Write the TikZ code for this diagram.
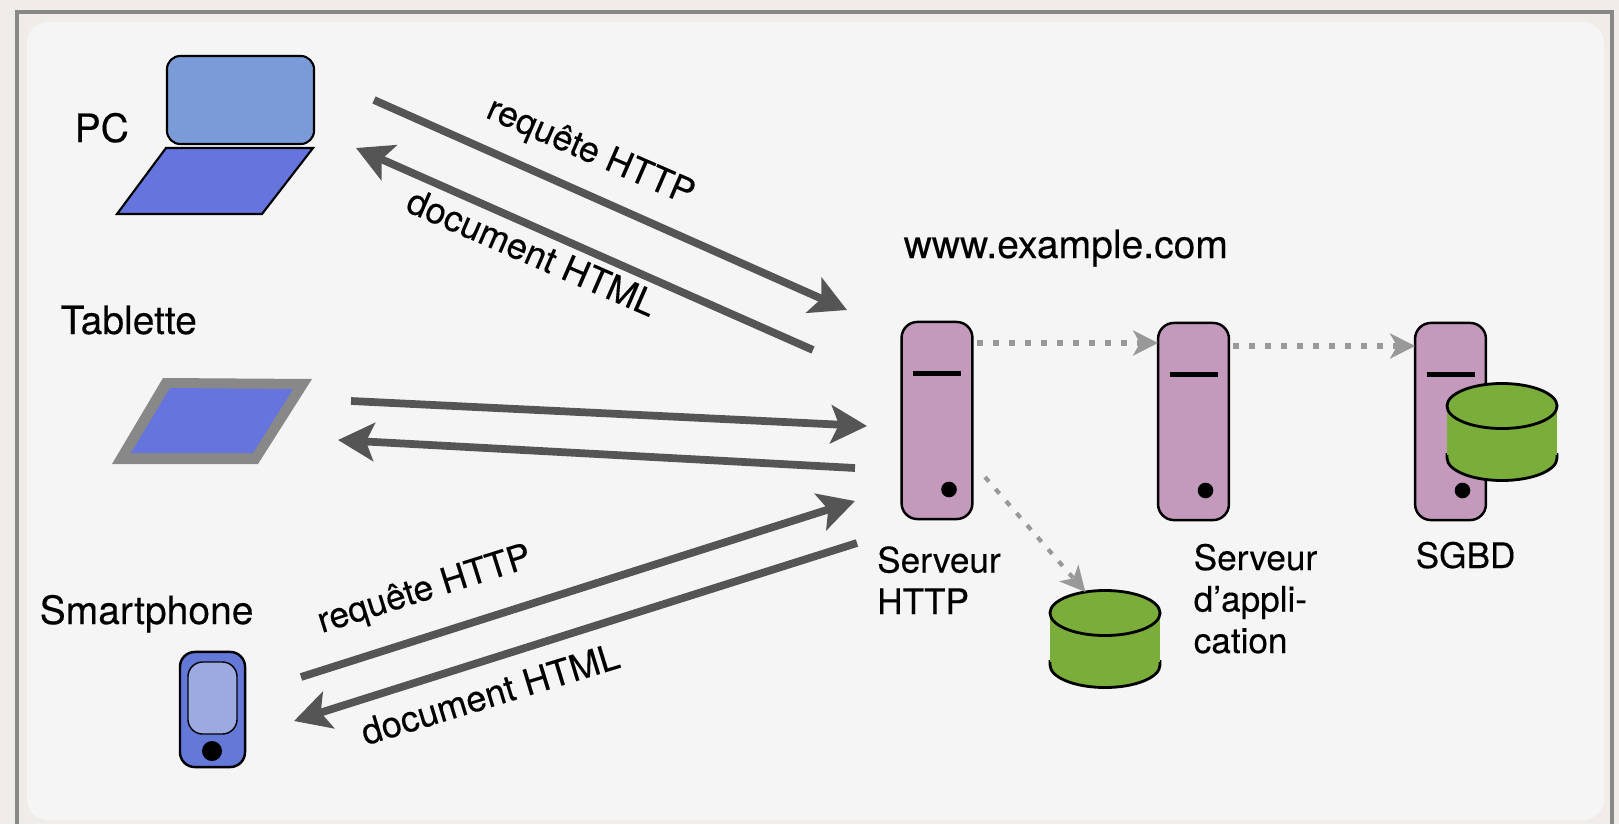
\documentclass[tikz,border=0pt]{standalone}
\usepackage{fontspec}
\setmainfont[FakeBold=0.25]{TeX Gyre Heros}
\definecolor{pagebg}{RGB}{240,237,232}
\definecolor{panelbg}{RGB}{245,245,245}
\definecolor{framegray}{RGB}{136,136,136}
\definecolor{arrowgray}{RGB}{85,85,85}
\definecolor{dotgray}{RGB}{153,153,153}
\definecolor{screenblue}{RGB}{122,155,216}
\definecolor{devblue}{RGB}{102,117,221}
\definecolor{phoneblue}{RGB}{100,120,216}
\definecolor{phonescreen}{RGB}{157,170,226}
\definecolor{srvpurple}{RGB}{195,154,187}
\definecolor{dbgreen}{RGB}{122,173,58}
\usetikzlibrary{arrows.meta}
\usetikzlibrary{positioning}
\usetikzlibrary{shapes.geometric}
\tikzset{srv/.style={
    draw=black,line width=0.7pt,fill=srvpurple,rounded corners=4.5pt,
    minimum width=0.708cm,minimum height=1.97cm,inner sep=0pt,outer sep=0pt
  },
  dev/.style={
    draw=black,line width=0.6pt,inner sep=0pt,outer sep=0pt
  },
  dbtop/.style={
    ellipse,draw=black,line width=0.8pt,fill=dbgreen,
    minimum width=1.10cm,minimum height=0.45cm,inner sep=0pt,outer sep=0pt
  },
  req/.style={
    line width=2.2pt,draw=arrowgray,
    -{Stealth[length=0.36cm,width=0.38cm,inset=0.08cm]}
  },
  dotreq/.style={
    line width=1.6pt,draw=dotgray,dash pattern=on 1.7pt off 2.85pt,
    -{Stealth[length=0.25cm,width=0.25cm,inset=0.07cm]}
  },
  lbl/.style={
    font=\fontsize{10}{11.8}\selectfont,inner sep=0pt,align=left
  },
  lblarrow/.style={
    font=\fontsize{10.1}{12}\selectfont,inner sep=0pt
  },
  lbldoc/.style={
    font=\fontsize{10.3}{12}\selectfont,inner sep=0pt
  },
  lblbig/.style={
    font=\fontsize{11.1}{13}\selectfont,inner sep=0pt
  }
}
\begin{document}
\begin{tikzpicture}[x=0.01cm,y=-0.01cm]
      \useasboundingbox (0,0) rectangle (1619,824);
      \fill[pagebg] (0,0) rectangle (1619,824);
      \draw[framegray,line width=0.9pt] (17,824) -- (17,12) -- (1612,12) -- (1612,824);
      \fill[panelbg,rounded corners=6pt] (27,22) rectangle (1604,820);
      % PC
      \node[dev,fill=screenblue,rounded corners=3.8pt,minimum width=1.47cm,minimum height=0.88cm] (pcscreen) at (240.5,100) {};
      \draw[dev,fill=devblue] (166,148) -- (313,148) -- (262,214) -- (117,214) -- cycle;
      \node[lblbig,anchor=base west] (pclabel) at (74,142) {PC};
      % tablette
      \fill[framegray] (163,378) -- (312,379) -- (258,464) -- (112,464) -- cycle;
      \fill[devblue] (170,388) -- (293,389) -- (253,453) -- (131,453) -- cycle;
      \node[lblbig,anchor=base west] (tablabel) at (60,334) {Tablette};
      % smartphone
      \node[dev,line width=0.7pt,fill=phoneblue,rounded corners=4.2pt,minimum width=0.65cm,minimum height=1.15cm] (phone) at (212.5,709.5) {};
      \node[dev,line width=0.4pt,fill=phonescreen,rounded corners=4.2pt,minimum width=0.49cm,minimum height=0.72cm] (phonescr) at (212.5,698) {};
      \node[circle,fill=black,minimum size=0.2cm,inner sep=0pt] (phonebtn) at (212,751) {};
      \node[lblbig,anchor=base west] (phlabel) at (39,624) {Smartphone};
      % serveurs
      \node[lblbig,anchor=base west] (site) at (903,258) {www.example.com};
      \node[srv] (srvhttp) at (937,420.5) {};
      \node[srv] (srvapp) at (1193.5,421.5) {};
      \node[srv] (srvdb) at (1450.5,421.5) {};
      \foreach \srv in {srvhttp,srvapp,srvdb} {
        \draw[black,line width=1.4pt] ([shift={(-24,-47)}]\srv.center) -- ([shift={(24,-47)}]\srv.center);
        \fill[black] ([shift={(12,69)}]\srv.center) circle (7.8);
      }
      % bases
      \draw[black,line width=0.8pt,fill=dbgreen] (1050,660) -- (1050,665) arc[start angle=180,end angle=0,x radius=55,y radius=22.5] -- (1160,660);
      \fill[dbgreen] (1050,613) rectangle (1160,662);
      \node[dbtop] (dbhttp) at (1105,613) {};
      \draw[black,line width=0.8pt,fill=dbgreen] (1447,453) -- (1447,458) arc[start angle=180,end angle=0,x radius=55,y radius=22.5] -- (1557,453);
      \fill[dbgreen] (1447,406) rectangle (1557,455);
      \node[dbtop] (dbsgbd) at (1502,406) {};
      \node[lbl,anchor=base west] (httplabel) at (876.5,614) {Serveur\\HTTP};
      \node[lbl,anchor=base west] (applabel) at (1193,653) {Serveur\\d’appli-\\cation};
      \node[lbl,anchor=base west] (sgbdlabel) at (1415,568) {SGBD};
      % fleches
      \coordinate (pcout) at (374,100);
      \coordinate (pcin) at (356,148);
      \coordinate (hin1) at (847,310);
      \coordinate (hout1) at (813,350);
      \coordinate (tabout) at (351,401);
      \coordinate (tabin) at (338,440);
      \coordinate (hin2) at (867,426);
      \coordinate (hout2) at (855,468);
      \coordinate (phout) at (301,677);
      \coordinate (phin) at (294,721);
      \coordinate (hin3) at (855,501);
      \coordinate (hout3) at (857,543);
      \draw[req] (pcout) -- (hin1);
      \draw[req] (hout1) -- (pcin);
      \draw[req] (tabout) -- (hin2);
      \draw[req] (hout2) -- (tabin);
      \draw[req] (phout) -- (hin3);
      \draw[req] (hout3) -- (phin);
      \coordinate (appout) at (977,343);
      \coordinate (dbout) at (1233,346);
      \coordinate (bdout) at (985,477);
      \draw[dotreq] (appout) -- (appout -| srvapp.west);
      \draw[dotreq] (dbout) -- (dbout -| srvdb.west);
      \draw[dotreq,line width=1.2pt] (bdout) -- (dbhttp.133);
      \node[lblarrow,rotate=-23.5] (req1) at (590,153) {requête HTTP};
      \node[lbldoc,rotate=-23.5] (doc1) at (532,252) {document HTML};
      \node[lblarrow,rotate=17.5] (req2) at (425,591) {requête HTTP};
      \node[lbldoc,rotate=17] (doc2) at (490,694) {document HTML};
      \end{tikzpicture}
\end{document}
